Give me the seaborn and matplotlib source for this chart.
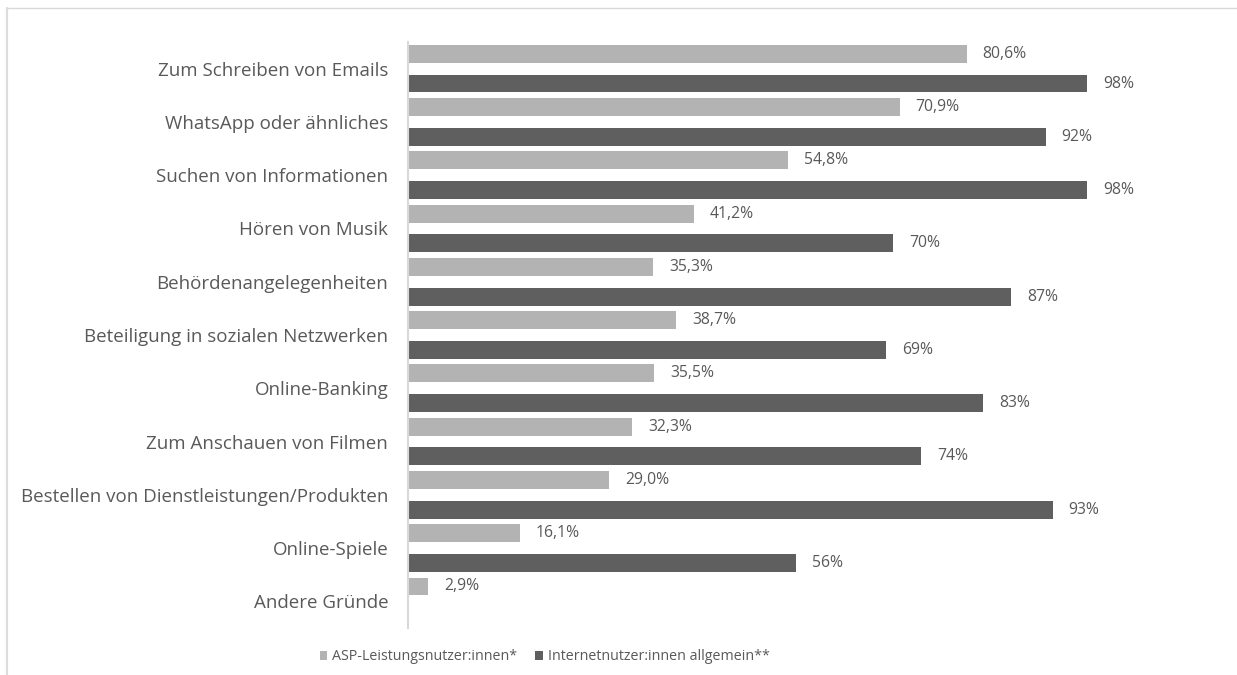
import matplotlib
matplotlib.use("Agg")
import matplotlib.pyplot as plt
from matplotlib.patches import Patch
from matplotlib.lines import Line2D
import seaborn as sns
import pandas as pd

# Nutzungszwecke des Internets
categories = [
    "Zum Schreiben von Emails",
    "WhatsApp oder ähnliches",
    "Suchen von Informationen",
    "Hören von Musik",
    "Behördenangelegenheiten",
    "Beteiligung in sozialen Netzwerken",
    "Online-Banking",
    "Zum Anschauen von Filmen",
    "Bestellen von Dienstleistungen/Produkten",
    "Online-Spiele",
    "Andere Gründe",
]
asp_values = [80.6, 70.9, 54.8, 41.2, 35.3, 38.7, 35.5, 32.3, 29.0, 16.1, 2.9]
internet_values = [98, 92, 98, 70, 87, 69, 83, 74, 93, 56, None]
series_names = ["ASP-Leistungsnutzer:innen*", "Internetnutzer:innen allgemein**"]
series_colors = ["#B3B3B3", "#5F5F5F"]

TEXT = "#595959"
GRID = "#D9D9D9"

df = pd.concat([
    pd.DataFrame({"Zweck": categories, "Anteil": asp_values, "Gruppe": series_names[0]}),
    pd.DataFrame({"Zweck": categories, "Anteil": internet_values, "Gruppe": series_names[1]}),
], ignore_index=True).dropna(subset=["Anteil"])

sns.set_theme(style="white")
plt.rcParams["font.family"] = ["Open Sans", "DejaVu Sans"]

fig = plt.figure(figsize=(12.37, 6.75), dpi=100)
ax = fig.add_axes([408.3 / 1237, 1 - 628 / 675, 692.9 / 1237, 586 / 675])

sns.barplot(
    data=df, x="Anteil", y="Zweck", hue="Gruppe", order=categories,
    hue_order=series_names, palette=series_colors, orient="h",
    width=1.117, gap=0.396, saturation=1, linewidth=0, ax=ax, legend=False,
)

ax.set_xlim(0, 100)
ax.set_ylim(10.5, -0.5)
ax.set_xlabel("")
ax.set_ylabel("")
ax.set_xticks([])
for side in ["top", "right", "bottom"]:
    ax.spines[side].set_visible(False)
ax.spines["left"].set_color(GRID)
ax.spines["left"].set_linewidth(1.5)
ax.tick_params(axis="y", length=0, pad=14.5, labelsize=13.5, labelcolor=TEXT)

# Wertbeschriftungen
fmt = [lambda v: f"{v:.1f}".replace(".", ",") + "%", lambda v: f"{v:.0f}%"]
for cont, f, vals in zip(ax.containers, fmt, [asp_values, internet_values]):
    labels = [f(v) for v in vals if v is not None]
    ax.bar_label(cont, labels=labels, padding=11.5, fontsize=11.3, color=TEXT)

# Legende
handles = [Patch(facecolor=c, edgecolor="none") for c in series_colors]
fig.legend(
    handles, series_names, loc="center", bbox_to_anchor=(544.5 / 1237, 1 - 657 / 675),
    ncol=2, frameon=False, fontsize=10.3, labelcolor=TEXT,
    handlelength=0.55, handleheight=0.55, handletextpad=0.3, columnspacing=1.3,
)

# Rahmen des Diagrammbereichs (oben und links)
fig.add_artist(Line2D([6.5 / 1237, 1], [1 - 8.3 / 675] * 2, transform=fig.transFigure,
                      color=GRID, linewidth=1.0))
fig.add_artist(Line2D([6.5 / 1237] * 2, [0, 1 - 8.3 / 675], transform=fig.transFigure,
                      color="#DDDDDD", linewidth=1.6))

fig.savefig("out.png", dpi=100)
